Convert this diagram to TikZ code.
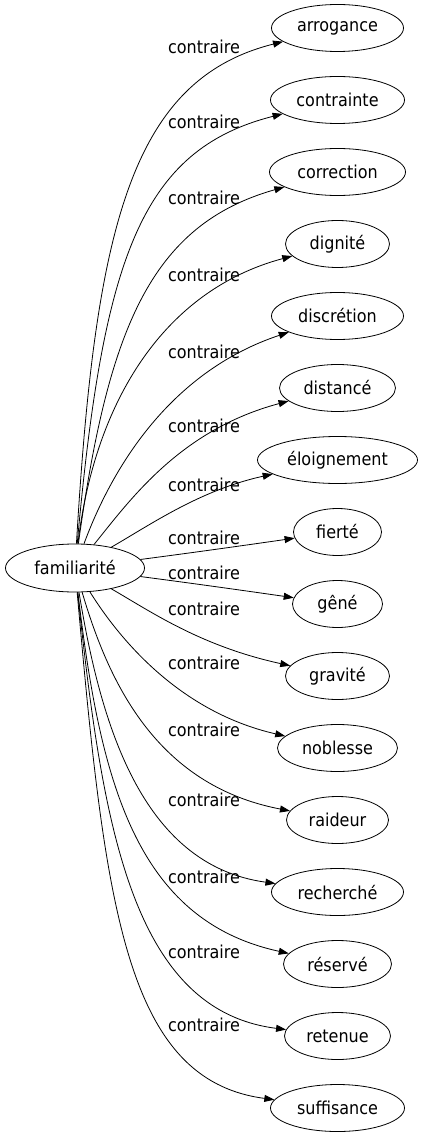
\documentclass[tikz,border=0pt]{standalone}
\usepackage{fontspec}
\setmainfont{DejaVu Sans}[FakeStretch=0.9]
\usetikzlibrary{shapes.geometric,arrows.meta}
\begin{document}
\begin{tikzpicture}[x=1pt,y=-1pt,
  nd/.style={draw, ellipse, inner sep=0pt, minimum height=47pt, line width=0.8pt, font=\fontsize{17.8}{21}\selectfont},
  lbl/.style={font=\fontsize{17.8}{21}\selectfont, inner sep=0pt},
  ed/.style={line width=0.8pt, -{Triangle[length=10pt,width=7pt]}}]
\useasboundingbox (0,0) rectangle (422,1139);
\node[nd, minimum width=139pt, minimum height=48pt] (src) at (75,568) {familiarité};
\node[nd, minimum width=132pt] (t1) at (337.5,28) {arrogance};
\node[nd, minimum width=134pt] (t2) at (337.5,100) {contrainte};
\node[nd, minimum width=136pt] (t3) at (337.5,172) {correction};
\node[nd, minimum width=104pt] (t4) at (337.5,244) {dignité};
\node[nd, minimum width=132pt] (t5) at (337.5,316) {discrétion};
\node[nd, minimum width=116pt] (t6) at (337.5,388) {distancé};
\node[nd, minimum width=160pt] (t7) at (337.5,460) {éloignement};
\node[nd, minimum width=88pt] (t8) at (337.5,532) {fierté};
\node[nd, minimum width=90pt] (t9) at (337.5,604) {gêné};
\node[nd, minimum width=104pt] (t10) at (337.5,676) {gravité};
\node[nd, minimum width=120pt] (t11) at (337.5,748) {noblesse};
\node[nd, minimum width=102pt] (t12) at (337.5,820) {raideur};
\node[nd, minimum width=132pt] (t13) at (337.5,892) {recherché};
\node[nd, minimum width=108pt] (t14) at (337.5,964) {réservé};
\node[nd, minimum width=106pt] (t15) at (337.5,1036) {retenue};
\node[nd, minimum width=134pt] (t16) at (337.5,1108) {suffisance};
\draw[ed] (src) .. controls (95,230) and (130,80) .. (t1);
\draw[ed] (src) .. controls (103,260) and (140,150) .. (t2);
\draw[ed] (src) .. controls (108,330) and (150,225) .. (t3);
\draw[ed] (src) .. controls (95,400) and (165,290) .. (t4);
\draw[ed] (src) .. controls (115,460) and (175,370) .. (t5);
\draw[ed] (src) .. controls (130,500) and (180,430) .. (t6);
\draw[ed] (src) .. controls (150,525) and (200,490) .. (t7);
\draw[ed] (src) .. controls (190,553) and (240,546) .. (t8);
\draw[ed] (src) .. controls (190,583) and (240,590) .. (t9);
\draw[ed] (src) .. controls (150,611) and (200,646) .. (t10);
\draw[ed] (src) .. controls (120,640) and (180,712) .. (t11);
\draw[ed] (src) .. controls (108,680) and (155,785) .. (t12);
\draw[ed] (src) .. controls (100,720) and (140,865) .. (t13);
\draw[ed] (src) .. controls (100,780) and (135,920) .. (t14);
\draw[ed] (src) .. controls (102,820) and (130,1010) .. (t15);
\draw[ed] (src) .. controls (105,906) and (125,1080) .. (t16);
\node[lbl] (l1) at (204,47) {contraire};
\node[lbl] (l2) at (204,122) {contraire};
\node[lbl] (l3) at (204,198) {contraire};
\node[lbl] (l4) at (204,275) {contraire};
\node[lbl] (l5) at (204,352) {contraire};
\node[lbl] (l6) at (204,426) {contraire};
\node[lbl] (l7) at (204,485) {contraire};
\node[lbl] (l8) at (204,538) {contraire};
\node[lbl] (l9) at (204,573) {contraire};
\node[lbl] (l10) at (204,609) {contraire};
\node[lbl] (l11) at (204,663) {contraire};
\node[lbl] (l12) at (204,730) {contraire};
\node[lbl] (l13) at (204,800) {contraire};
\node[lbl] (l14) at (204,877) {contraire};
\node[lbl] (l15) at (204,952) {contraire};
\node[lbl] (l16) at (204,1025) {contraire};
\end{tikzpicture}
\end{document}
